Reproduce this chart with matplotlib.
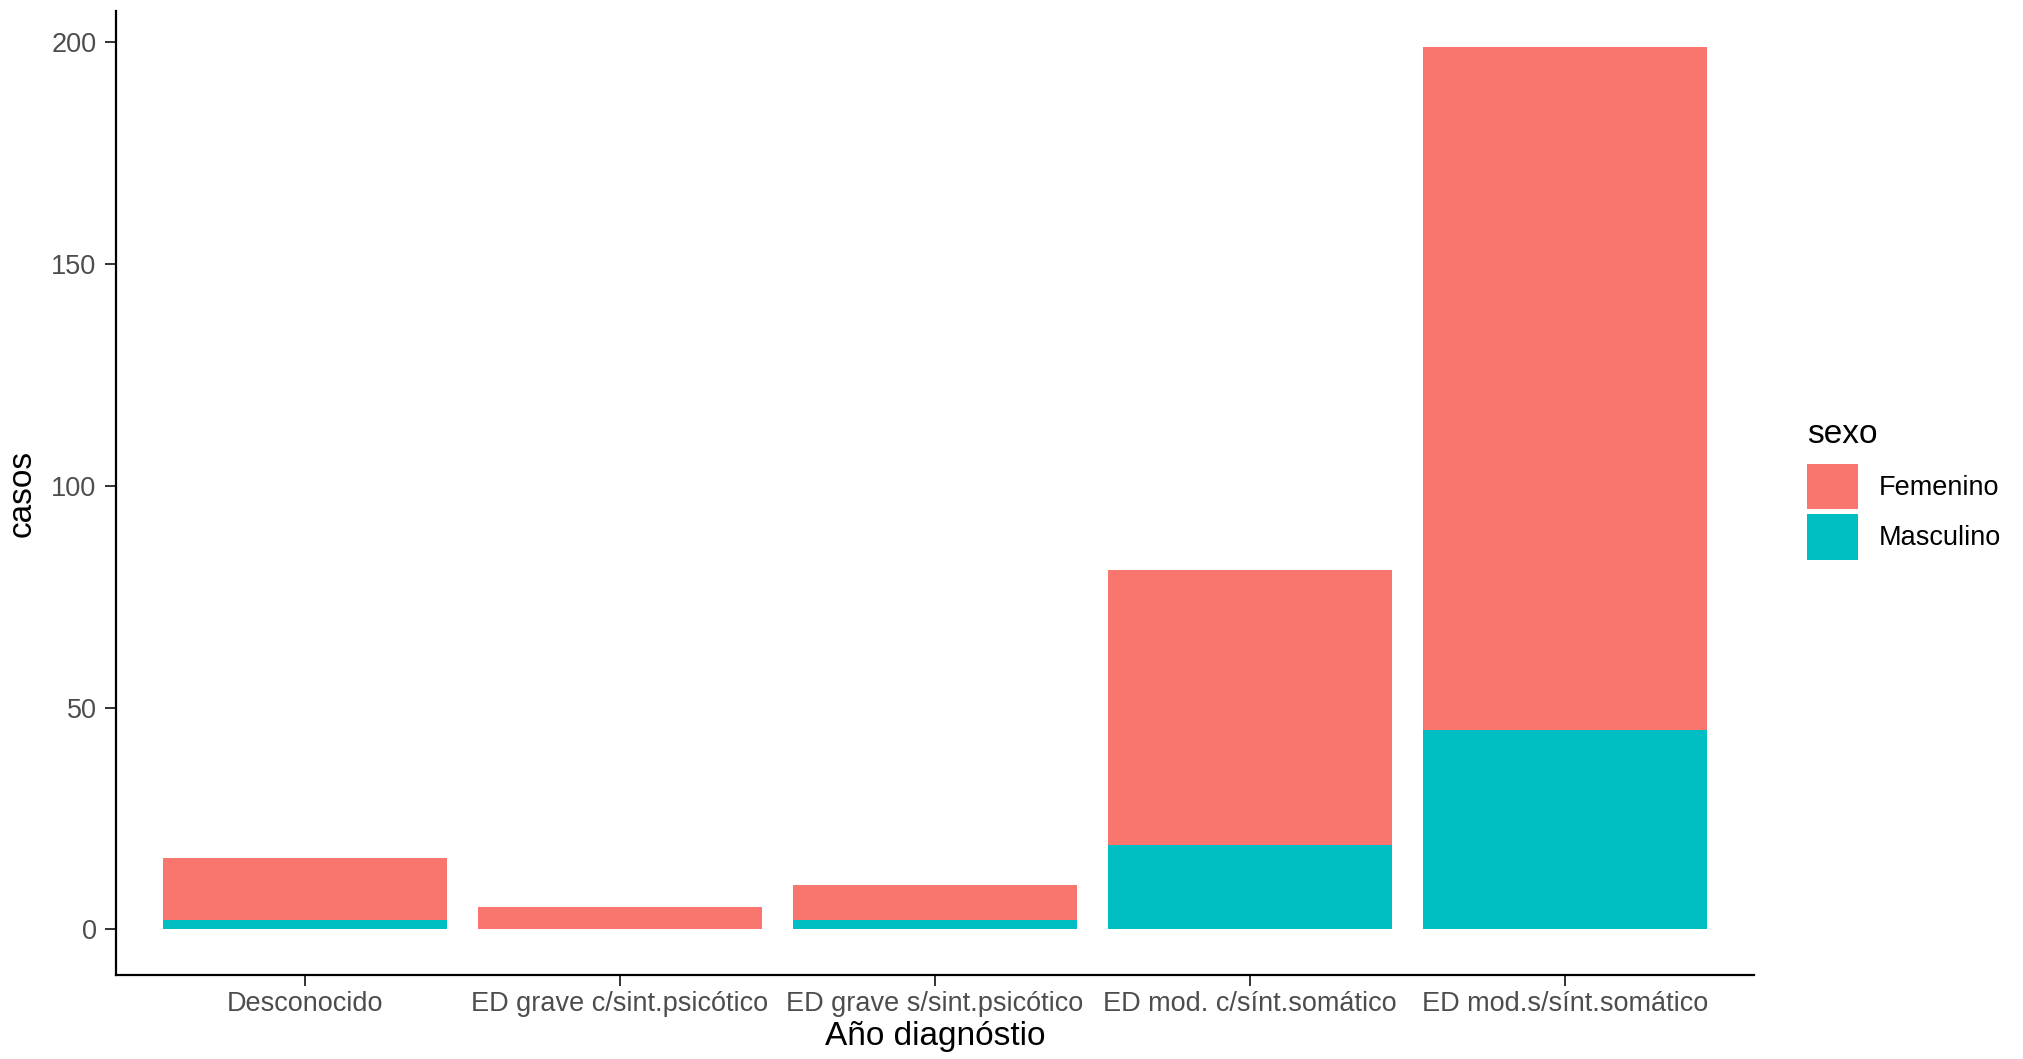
import matplotlib
matplotlib.use('Agg')
import matplotlib.pyplot as plt
import numpy as np

plt.rcParams['font.family'] = ['Liberation Sans', 'DejaVu Sans']

categorias = ['Desconocido', 'ED grave c/sint.psicótico', 'ED grave s/sint.psicótico',
              'ED mod. c/sínt.somático', 'ED mod.s/sínt.somático']
femenino = [14, 5, 8, 62, 154]
masculino = [2, 0, 2, 19, 45]

col_fem = '#F8766D'
col_mas = '#00BFC4'

fig = plt.figure(figsize=(20.24, 10.59), dpi=100)
ax = fig.add_axes([0.0573, 0.0793, 0.8093, 0.9103])

x = np.arange(len(categorias))
ax.bar(x, masculino, width=0.9, color=col_mas, label='Masculino')
ax.bar(x, femenino, width=0.9, bottom=masculino, color=col_fem, label='Femenino')

ax.set_ylim(-10.3, 207)
ax.set_xlim(-0.6, len(categorias) - 0.4)
ax.set_xticks(x)
ax.set_xticklabels(categorias)
ax.set_yticks([0, 50, 100, 150, 200])

for s in ['top', 'right']:
    ax.spines[s].set_visible(False)
for s in ['left', 'bottom']:
    ax.spines[s].set_linewidth(1.6)
    ax.spines[s].set_color('black')
ax.tick_params(length=8, width=1.4, color='#333333', labelcolor='#4D4D4D',
               labelsize=19.5, pad=6)
ax.tick_params(axis='x', pad=3.5)

ax.set_xlabel('Año diagnóstio', fontsize=24, color='black', labelpad=3)
ax.set_ylabel('casos', fontsize=24, color='black', labelpad=10)

h, l = ax.get_legend_handles_labels()
leg = ax.legend(h[::-1], l[::-1], title='sexo', loc='upper left',
                bbox_to_anchor=(0.893, 0.604), bbox_transform=fig.transFigure,
                frameon=False, fontsize=19.5, title_fontsize=24,
                handlelength=1.85, handleheight=2.2, labelspacing=0.2,
                handletextpad=0.8, borderpad=0, borderaxespad=0)
leg._legend_box.align = 'left'
leg._legend_box.sep = 9.5

fig.savefig('out.png', dpi=100)
